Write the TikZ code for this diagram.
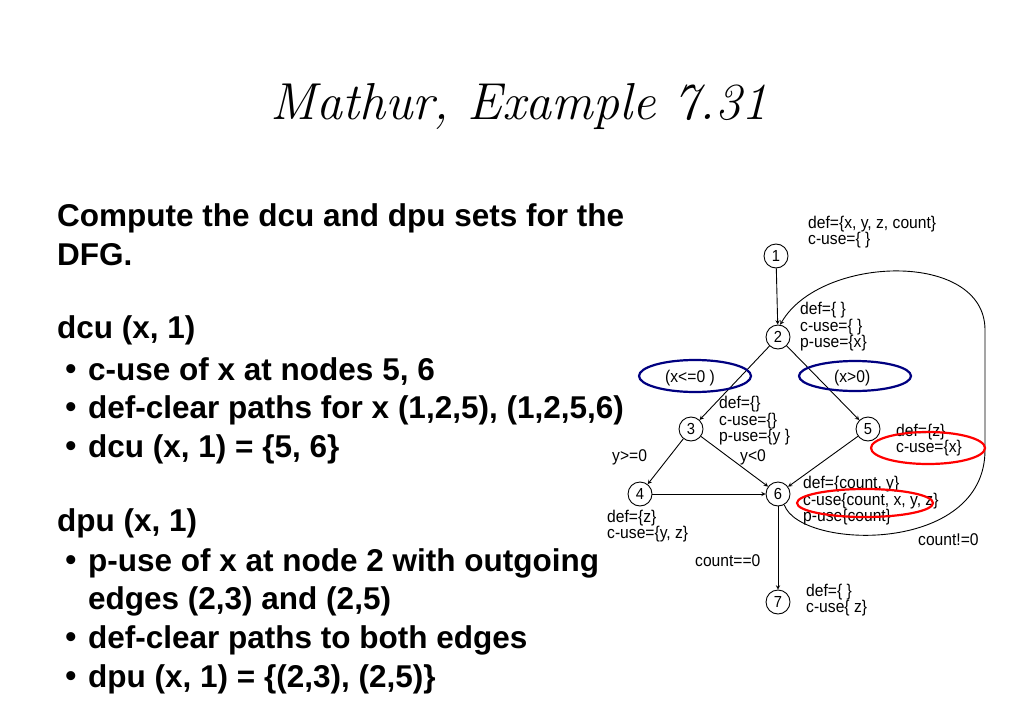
\documentclass[tikz,border=0pt]{standalone}
\usepackage{fontspec}
\setmainfont{Latin Modern Roman}
\newfontfamily\arial{Liberation Sans}
\newfontfamily\narrowf{Liberation Sans}[FakeStretch=0.92]
\begin{document}
\begin{tikzpicture}[x=1pt,y=-1pt,
  nd/.style={circle,draw,line width=0.9pt,minimum size=24pt,inner sep=0pt,font=\narrowf\fontsize{16}{16}\selectfont},
  lb/.style={anchor=west,inner sep=0pt,align=left,font=\narrowf\fontsize{17}{16.5}\selectfont},
  el/.style={line width=2.2pt},
  ed/.style={-stealth,line width=0.9pt},
  bt/.style={anchor=west,inner sep=0pt,font=\arial\bfseries\fontsize{31.5}{31.5}\selectfont},
  bu/.style={anchor=center,inner sep=0pt,font=\arial\bfseries\fontsize{31.5}{31.5}\selectfont}]
\useasboundingbox (0,0) rectangle (1024,714);
\node[font=\itshape\fontsize{52}{52}\selectfont] (title) at (519,107) {Mathur, Example 7.31};
\node[bt] (t1) at (57,218) {Compute the dcu and dpu sets for the};
\node[bt] (t2) at (57,255) {DFG.};
\node[bt] (t3) at (57,330) {dcu (x, 1)};
\node[bu] (b4) at (71,372) {\textbullet};
\node[bt] (t4) at (88,372) {c-use of x at nodes 5, 6};
\node[bu] (b5) at (71,410) {\textbullet};
\node[bt] (t5) at (88,410) {def-clear paths for x (1,2,5), (1,2,5,6)};
\node[bu] (b6) at (71,449) {\textbullet};
\node[bt] (t6) at (88,449) {dcu (x, 1) = \{5, 6\}};
\node[bt] (t7) at (57,523) {dpu (x, 1)};
\node[bu] (b8) at (71,563) {\textbullet};
\node[bt] (t8) at (88,563) {p-use of x at node 2 with outgoing};
\node[bt] (t9) at (88,601) {edges (2,3) and (2,5)};
\node[bu] (b10) at (71,640) {\textbullet};
\node[bt] (t10) at (88,640) {def-clear paths to both edges};
\node[bu] (b11) at (71,679) {\textbullet};
\node[bt] (t11) at (88,679) {dpu (x, 1) = \{(2,3), (2,5)\}};

\node[nd] (n1) at (776,256) {1};
\node[nd] (n2) at (778,337) {2};
\node[nd] (n3) at (691,429) {3};
\node[nd] (n5) at (868,429) {5};
\node[nd] (n4) at (640,494) {4};
\node[nd] (n6) at (778,494) {6};
\node[nd] (n7) at (778,602) {7};

\draw[ed] (n1) -- (n2);
\draw[ed] (n2) -- (n3);
\draw[ed] (n2) -- (n5);
\draw[ed] (n3) -- (n4);
\draw[ed] (n3) -- (n6);
\draw[ed] (n5) -- (n6);
\draw[ed] (n4) -- (n6);
\draw[ed] (n6) -- (n7);
\draw[ed] (n6.-60) .. controls (800,550) and (985,555) .. (985,450) -- (985,330) .. controls (985,250) and (820,255) .. (n2.80);

\node[lb] (l1) at (808,232) {def=\{x, y, z, count\}\\c-use=\{ \}};
\node[lb] (l2) at (800,327) {def=\{ \}\\c-use=\{ \}\\p-use=\{x\}};
\node[lb] (l3) at (719,421) {def=\{\}\\c-use=\{\}\\p-use=\{y \}};
\node[lb] (l5) at (896,440) {def=\{z\}\\c-use=\{x\}};
\node[lb] (l4) at (607,526) {def=\{z\}\\c-use=\{y, z\}};
\node[lb] (l6) at (803,501) {def=\{count, y\}\\c-use\{count, x, y, z\}\\p-use\{count\}};
\node[lb] (l7) at (806,600) {def=\{ \}\\c-use\{ z\}};
\node[lb] (e1) at (612,457) {y>=0};
\node[lb] (e2) at (740,457) {y<0};
\node[lb] (e3) at (695,561) {count==0};
\node[lb] (e4) at (918,540) {count!=0};
\node[lb] (c1) at (665,378) {(x<=0 )};
\node[lb] (c2) at (834,378) {(x>0)};

\draw[el,draw={rgb,255:red,0;green,0;blue,128}] (695,376) ellipse (56 and 16);
\draw[el,draw={rgb,255:red,0;green,0;blue,128}] (855,376) ellipse (56 and 15);
\draw[el,red] (928,448) ellipse (57 and 16);
\draw[el,red] (865,503) ellipse (68 and 14);
\end{tikzpicture}
\end{document}
